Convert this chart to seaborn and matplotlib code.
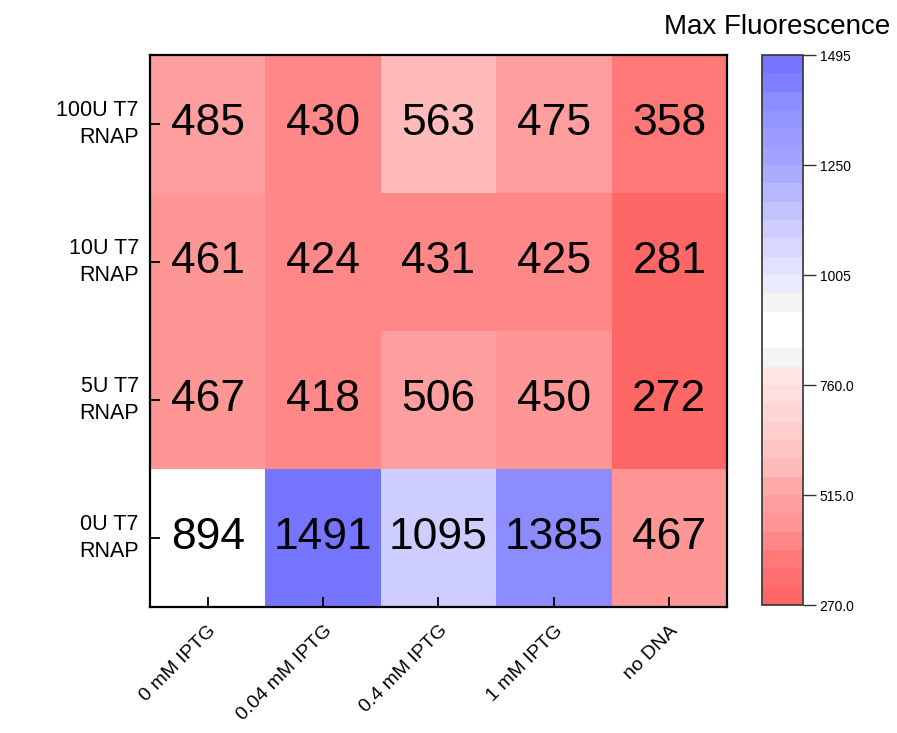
import numpy as np
import pandas as pd
import matplotlib
matplotlib.use("Agg")
import matplotlib.pyplot as plt
from matplotlib.colors import ListedColormap, BoundaryNorm
import seaborn as sns

# Max fluorescence for each T7 RNAP amount (rows) and IPTG condition (columns)
row_labels = ["100U T7\nRNAP", "10U T7\nRNAP", "5U T7\nRNAP", "0U T7\nRNAP"]
col_labels = ["0 mM IPTG", "0.04 mM IPTG", "0.4 mM IPTG", "1 mM IPTG", "no DNA"]
vals_100u = [485, 430, 563, 475, 358]
vals_10u = [461, 424, 431, 425, 281]
vals_5u = [467, 418, 506, 450, 272]
vals_0u = [894, 1491, 1095, 1385, 467]

cbar_min, cbar_max, n_levels = 270.0, 1495.0, 30
cbar_ticks = [270.0, 515.0, 760.0, 1005.0, 1250.0, 1495.0]
cbar_ticklabels = ["270.0", "515.0", "760.0", "1005", "1250", "1495"]

df = pd.DataFrame([vals_100u, vals_10u, vals_5u, vals_0u],
                  index=row_labels, columns=col_labels)

# Stepped red-white-blue palette (30 bands)
red_g = [102, 110, 120, 135, 150, 158, 170, 186, 196, 206, 214, 222, 230]
blue_rg = [235, 226, 216, 205, 195, 184, 172, 163, 156, 148, 140, 128, 117]
colors = [(1.0, g / 255, g / 255) for g in red_g]
colors += [(0.957, 0.957, 0.957), (1, 1, 1), (1, 1, 1), (0.957, 0.957, 0.957)]
colors += [(v / 255, v / 255, 1.0) for v in blue_rg]
cmap = ListedColormap(colors)
norm = BoundaryNorm(np.linspace(cbar_min, cbar_max, n_levels + 1), n_levels)

sns.set_theme(style="white")
plt.rcParams["font.family"] = ["Liberation Sans", "DejaVu Sans"]

fig = plt.figure(figsize=(8.97, 7.33), dpi=100)
ax = fig.add_axes([0.1672, 0.1719, 0.6433, 0.7531])
cax = fig.add_axes([0.8495, 0.1746, 0.0457, 0.7503])

sns.heatmap(df, ax=ax, cmap=cmap, norm=norm, annot=True, fmt="d",
            annot_kws={"color": "black", "fontsize": 32},
            cbar_ax=cax, linewidths=0)
ax.set_axisbelow(False)

for side in ["left", "bottom", "right", "top"]:
    ax.spines[side].set_visible(True)
    ax.spines[side].set_color("black")
    ax.spines[side].set_linewidth(1.6)
    ax.spines[side].set_zorder(3)

ax.tick_params(axis="both", direction="in", length=7, width=1.3, color="black",
               labelcolor="black", left=True, bottom=True, right=False, top=False)
ax.tick_params(axis="y", pad=8, labelsize=15.5)
ax.tick_params(axis="x", pad=11, labelsize=14)
ax.set_xlabel("")
ax.set_ylabel("")
for lbl in ax.get_yticklabels():
    lbl.set_rotation(0)
    lbl.set_multialignment("right")
    lbl.set_linespacing(1.35)
    lbl.set_ha("right")
    lbl.set_va("center")
for lbl in ax.get_xticklabels():
    lbl.set_rotation(45)
    lbl.set_ha("right")
    lbl.set_va("top")
    lbl.set_rotation_mode("anchor")

# Colorbar styling
cb = ax.collections[0].colorbar
cb.set_ticks(cbar_ticks)
cb.set_ticklabels(cbar_ticklabels)
cax.minorticks_off()
cb.outline.set_edgecolor("#333333")
cb.outline.set_linewidth(1.2)
cax.tick_params(direction="out", length=9, width=1.0, color="#333333",
                labelcolor="black", labelsize=10, pad=3, right=True)

fig.text(0.866, 1 - 34 / 733, "Max Fluorescence", ha="center",
         va="baseline", fontsize=20, color="black")

fig.savefig("out.png", dpi=100, facecolor="white")
